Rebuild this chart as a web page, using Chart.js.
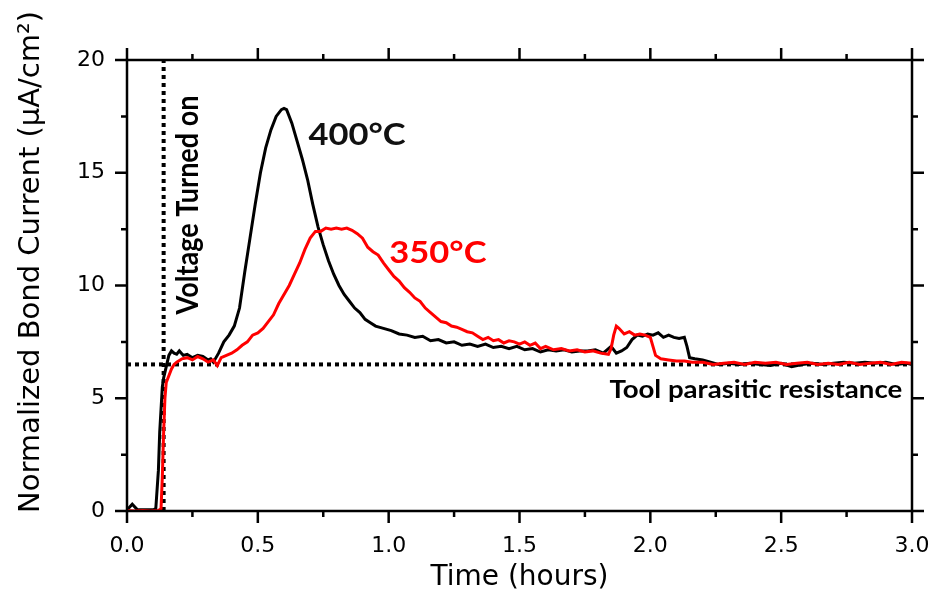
<!DOCTYPE html>
<html>
<head>
<meta charset="utf-8">
<script src="https://cdn.jsdelivr.net/npm/chart.js@4.4.0/dist/chart.umd.min.js"></script>
<style>
  html, body { margin: 0; padding: 0; background: #fff; }
  canvas { display: block; }
</style>
</head>
<body>
<canvas id="bondChart" width="933" height="602"></canvas>
<script>
// время (часы) и ток для 400°C
const time400 = [0, 0.02, 0.04, 0.06, 0.08, 0.10, 0.11, 0.12, 0.125, 0.13, 0.135, 0.14, 0.15, 0.16, 0.17, 0.18, 0.19, 0.20, 0.215, 0.23, 0.25, 0.27, 0.29, 0.31, 0.32, 0.33, 0.35, 0.37, 0.39, 0.41, 0.43, 0.45, 0.47, 0.49, 0.51, 0.53, 0.55, 0.57, 0.59, 0.60, 0.61, 0.63, 0.65, 0.67, 0.69, 0.71, 0.73, 0.75, 0.77, 0.79, 0.81, 0.83, 0.85, 0.87, 0.89, 0.91, 0.93, 0.95, 0.98, 1.01, 1.04, 1.07, 1.10, 1.13, 1.16, 1.19, 1.22, 1.25, 1.28, 1.31, 1.34, 1.37, 1.40, 1.43, 1.46, 1.49, 1.52, 1.55, 1.58, 1.61, 1.64, 1.67, 1.70, 1.73, 1.76, 1.79, 1.82, 1.85, 1.87, 1.89, 1.91, 1.93, 1.95, 1.97, 1.99, 2.01, 2.03, 2.05, 2.07, 2.09, 2.11, 2.13, 2.14, 2.15, 2.17, 2.20, 2.23, 2.26, 2.30, 2.34, 2.38, 2.42, 2.46, 2.50, 2.54, 2.58, 2.62, 2.66, 2.70, 2.74, 2.78, 2.82, 2.86, 2.90, 2.94, 2.98, 3.0];
const current400 = [0.05, 0.3, 0.05, 0.05, 0.05, 0.05, 0.1, 1.8, 3.5, 4.5, 5.5, 5.9, 6.4, 6.9, 7.1, 7.0, 6.95, 7.1, 6.9, 6.95, 6.8, 6.9, 6.85, 6.7, 6.75, 6.6, 7.0, 7.5, 7.8, 8.2, 9.0, 10.6, 12.1, 13.6, 15.0, 16.1, 16.9, 17.5, 17.8, 17.85, 17.8, 17.2, 16.4, 15.6, 14.7, 13.6, 12.6, 11.8, 11.1, 10.5, 10.0, 9.6, 9.3, 9.0, 8.8, 8.5, 8.35, 8.2, 8.1, 8.0, 7.85, 7.8, 7.7, 7.75, 7.55, 7.6, 7.45, 7.5, 7.35, 7.4, 7.3, 7.4, 7.25, 7.3, 7.2, 7.3, 7.15, 7.2, 7.05, 7.15, 7.1, 7.15, 7.05, 7.1, 7.1, 7.15, 7.0, 7.3, 7.0, 7.1, 7.25, 7.6, 7.8, 7.75, 7.85, 7.8, 7.9, 7.7, 7.8, 7.7, 7.65, 7.7, 7.3, 6.8, 6.75, 6.7, 6.6, 6.5, 6.55, 6.5, 6.55, 6.5, 6.45, 6.55, 6.4, 6.5, 6.55, 6.5, 6.55, 6.6, 6.55, 6.6, 6.55, 6.6, 6.5, 6.55, 6.5];

// время (часы) и ток для 350°C
const time350 = [0, 0.03, 0.06, 0.09, 0.12, 0.13, 0.135, 0.14, 0.145, 0.15, 0.16, 0.17, 0.18, 0.19, 0.21, 0.23, 0.25, 0.27, 0.29, 0.31, 0.33, 0.345, 0.36, 0.38, 0.40, 0.42, 0.44, 0.46, 0.48, 0.50, 0.52, 0.54, 0.56, 0.58, 0.60, 0.62, 0.64, 0.66, 0.68, 0.70, 0.72, 0.74, 0.76, 0.78, 0.80, 0.82, 0.84, 0.86, 0.88, 0.90, 0.92, 0.94, 0.96, 0.98, 1.00, 1.02, 1.04, 1.06, 1.08, 1.10, 1.12, 1.14, 1.16, 1.18, 1.20, 1.22, 1.24, 1.26, 1.28, 1.30, 1.32, 1.34, 1.36, 1.38, 1.40, 1.42, 1.44, 1.46, 1.48, 1.50, 1.52, 1.54, 1.56, 1.58, 1.60, 1.63, 1.66, 1.69, 1.72, 1.75, 1.78, 1.81, 1.84, 1.85, 1.86, 1.87, 1.88, 1.90, 1.92, 1.94, 1.96, 1.98, 2.00, 2.01, 2.02, 2.04, 2.07, 2.10, 2.13, 2.16, 2.20, 2.24, 2.28, 2.32, 2.36, 2.40, 2.44, 2.48, 2.52, 2.56, 2.60, 2.64, 2.68, 2.72, 2.76, 2.80, 2.84, 2.88, 2.92, 2.96, 3.0];
const current350 = [0.02, 0.0, 0.02, 0.0, 0.02, 0.1, 1.5, 3.5, 5.0, 5.7, 6.0, 6.3, 6.5, 6.6, 6.75, 6.8, 6.7, 6.85, 6.75, 6.6, 6.7, 6.45, 6.8, 6.9, 7.0, 7.15, 7.35, 7.5, 7.8, 7.9, 8.1, 8.4, 8.7, 9.2, 9.6, 10.0, 10.5, 11.0, 11.6, 12.1, 12.4, 12.4, 12.55, 12.5, 12.55, 12.5, 12.55, 12.45, 12.3, 12.1, 11.7, 11.5, 11.35, 11.0, 10.7, 10.4, 10.2, 9.9, 9.7, 9.45, 9.3, 9.0, 8.8, 8.6, 8.4, 8.35, 8.2, 8.15, 8.05, 7.95, 7.9, 7.75, 7.6, 7.7, 7.55, 7.6, 7.45, 7.55, 7.5, 7.4, 7.5, 7.35, 7.45, 7.2, 7.3, 7.15, 7.2, 7.1, 7.15, 7.05, 7.1, 7.0, 6.95, 7.2, 7.8, 8.2, 8.1, 7.85, 7.95, 7.8, 7.85, 7.8, 7.7, 7.3, 6.9, 6.75, 6.7, 6.65, 6.65, 6.6, 6.6, 6.5, 6.55, 6.6, 6.5, 6.6, 6.55, 6.6, 6.5, 6.55, 6.6, 6.5, 6.55, 6.5, 6.6, 6.5, 6.55, 6.6, 6.5, 6.6, 6.55];

// опорные линии
const parasiticLevel = 6.5;
const voltageOnTime = 0.14;
const xRange = [0, 3];
const yRange = [0, 20];
const xTickStep = 0.5;
const yTickStep = 5;

const toPoints = (xs, ys) => xs.map((x, i) => ({ x: x, y: ys[i] }));

// рамка, засечки и подписи
const framePlugin = {
    id: 'frame',
    afterDatasetsDraw(chart) {
        const { ctx, chartArea: a, scales: { x, y } } = chart;
        ctx.save();
        ctx.strokeStyle = '#000';
        ctx.lineWidth = 2.5;
        ctx.strokeRect(a.left, a.top, a.right - a.left, a.bottom - a.top);

        ctx.beginPath();
        for (let v = xRange[0]; v <= xRange[1] + 1e-9; v += xTickStep / 2) {
            const px = x.getPixelForValue(v);
            const major = Math.abs(v / xTickStep - Math.round(v / xTickStep)) < 1e-6;
            const len = major ? 12 : 6;
            ctx.moveTo(px, a.bottom); ctx.lineTo(px, a.bottom + len);
            ctx.moveTo(px, a.top); ctx.lineTo(px, a.top - len);
        }
        for (let v = yRange[0]; v <= yRange[1] + 1e-9; v += yTickStep / 2) {
            const py = y.getPixelForValue(v);
            const major = Math.abs(v / yTickStep - Math.round(v / yTickStep)) < 1e-6;
            const len = major ? 12 : 6;
            ctx.moveTo(a.left, py); ctx.lineTo(a.left - len, py);
            ctx.moveTo(a.right, py); ctx.lineTo(a.right + len, py);
        }
        ctx.stroke();

        // подписи осей
        ctx.fillStyle = '#000';
        ctx.textAlign = 'center';
        ctx.textBaseline = 'middle';
        ctx.font = '28px "DejaVu Sans"';
        ctx.fillText('Time (hours)', (a.left + a.right) / 2, 578);
        ctx.save();
        ctx.translate(31, 262);
        ctx.rotate(-Math.PI / 2);
        ctx.font = '29px "DejaVu Sans"';
        ctx.fillText('Normalized Bond Current (\u03bcA/cm\u00b2)', 0, 0);
        ctx.restore();

        // аннотации
        const label = (text, vx, vy, color, size, rotate) => {
            ctx.save();
            ctx.translate(x.getPixelForValue(vx), y.getPixelForValue(vy));
            ctx.scale(1.15, 1);
            if (rotate) ctx.rotate(-Math.PI / 2);
            ctx.font = 'bold ' + size + 'px Lato';
            ctx.fillStyle = color;
            ctx.fillText(text, 0, 0);
            ctx.restore();
        };
        label('400\u00b0C', 0.879, 16.67, '#111', 30, false);
        label('350\u00b0C', 1.188, 11.44, '#ff0000', 30, false);
        label('Voltage Turned on', 0.233, 13.57, '#000', 27, true);
        label('Tool parasitic resistance', 2.403, 5.37, '#000', 24, false);
        ctx.restore();
    }
};

const ctx = document.getElementById('bondChart');
new Chart(ctx, {
    type: 'line',
    data: {
        datasets: [
            {
                label: '350°C',
                data: toPoints(time350, current350),
                borderColor: '#ff0000',
                borderWidth: 3,
                order: 0
            },
            {
                label: '400°C',
                data: toPoints(time400, current400),
                borderColor: '#000',
                borderWidth: 3,
                order: 1
            },
            {
                label: 'Tool parasitic resistance',
                data: [{ x: xRange[0], y: parasiticLevel }, { x: xRange[1], y: parasiticLevel }],
                borderColor: '#000',
                borderWidth: 4,
                borderDash: [4, 4],
                order: 2
            },
            {
                label: 'Voltage Turned on',
                data: [{ x: voltageOnTime, y: yRange[0] }, { x: voltageOnTime, y: yRange[1] }],
                borderColor: '#000',
                borderWidth: 4,
                borderDash: [4, 4],
                order: 2
            }
        ]
    },
    options: {
        responsive: false,
        animation: false,
        parsing: false,
        elements: { point: { radius: 0 }, line: { tension: 0, borderCapStyle: 'butt' } },
        layout: { autoPadding: false, padding: { top: 60, right: 21, left: 0, bottom: 0 } },
        plugins: {
            legend: { display: false },
            tooltip: { enabled: false }
        },
        scales: {
            x: {
                type: 'linear',
                min: xRange[0],
                max: xRange[1],
                grid: { display: false, drawTicks: false },
                border: { display: false },
                ticks: {
                    stepSize: xTickStep,
                    padding: 22,
                    color: '#000',
                    font: { family: 'DejaVu Sans', size: 22 },
                    maxRotation: 0,
                    callback: v => v.toFixed(1)
                },
                afterFit: s => { s.height = 91; s.paddingLeft = 0; s.paddingRight = 0; }
            },
            y: {
                type: 'linear',
                min: yRange[0],
                max: yRange[1],
                grid: { display: false, drawTicks: false },
                border: { display: false },
                ticks: {
                    stepSize: yTickStep,
                    padding: 22,
                    color: '#000',
                    font: { family: 'DejaVu Sans', size: 22 }
                },
                afterFit: s => { s.width = 127; s.paddingTop = 0; s.paddingBottom = 0; }
            }
        }
    },
    plugins: [framePlugin]
});
</script>
</body>
</html>
